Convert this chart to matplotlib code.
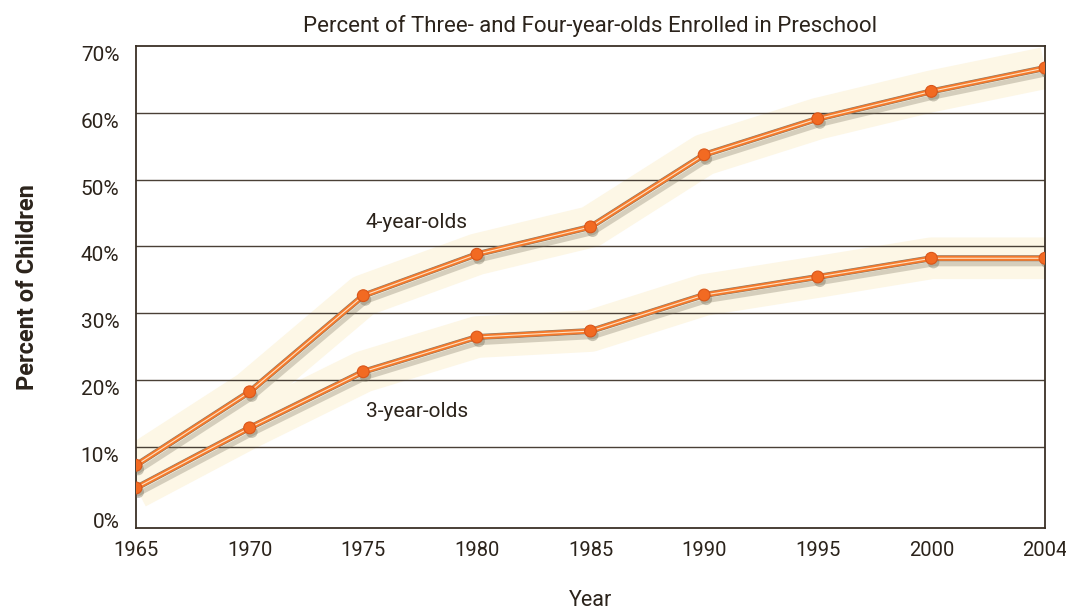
import matplotlib.pyplot as plt
import matplotlib.patheffects as pe

# data
years = ["1965", "1970", "1975", "1980", "1985", "1990", "1995", "2000", "2004"]
four_year = [7.2, 18.2, 32.6, 38.8, 42.9, 53.7, 59.1, 63.2, 66.7]
three_year = [3.8, 12.8, 21.2, 26.4, 27.3, 32.7, 35.4, 38.2, 38.2]
yticks = [0, 10, 20, 30, 40, 50, 60, 70]

plt.rcParams['font.family'] = ['Roboto', 'DejaVu Sans']
ink = "#2b231b"
orange = "#f47a2c"

fig = plt.figure(figsize=(10.66, 6.09), dpi=100)
ax = fig.add_axes([0.1276, 0.133, 0.8527, 0.7915])
x = list(range(len(years)))

for ys in (four_year, three_year):
    # pale glow band behind the lines
    ax.plot(x, ys, color="#fdf7e6", lw=30, solid_capstyle="butt", zorder=0.5)
    ax.plot(x, ys, color=orange, lw=3.6, zorder=3,
            path_effects=[pe.SimpleLineShadow(offset=(2, -4), shadow_color="#7a725c", alpha=0.3, rho=1),
                          pe.Stroke(linewidth=4.4, foreground="#8a7a6a"), pe.Normal()])
    ax.plot(x, ys, color="#ffe2c4", lw=0.8, zorder=4)
    ax.plot(x, ys, "o", color="#f26a22", ms=8.5, mec="#d9561a", mew=0.8, zorder=5,
            path_effects=[pe.SimplePatchShadow(offset=(1.5, -3), shadow_rgbFace="#6a6450", alpha=0.35), pe.Normal()])

ax.text(2.02, 43.6, "4-year-olds", fontsize=15, color=ink, va="center", ha="left", zorder=6)
ax.text(2.02, 15.3, "3-year-olds", fontsize=15, color=ink, va="center", ha="left", zorder=6)

ax.set_xlim(0, len(years) - 1)
ax.set_ylim(-2.2, 70)
ax.set_xticks(x)
ax.set_xticklabels(years)
ax.set_yticks(yticks)
ax.set_yticklabels([f"{v}%" for v in yticks])
for v in yticks[1:-1]:
    ax.axhline(v, color="#4a4036", lw=1.0, zorder=1)
ax.tick_params(length=0, colors=ink, pad=9)
ax.tick_params(axis="x", labelsize=14.5)
ax.tick_params(axis="y", labelsize=15, pad=12)
for lab in ax.get_yticklabels():
    lab.set_va("top")
for s in ax.spines.values():
    s.set_color("#3a3026")
    s.set_linewidth(1.3)

ax.set_title("Percent of Three- and Four-year-olds Enrolled in Preschool", fontsize=16, color=ink, pad=10)
ax.set_xlabel("Year", fontsize=15.5, color=ink, labelpad=22)
ax.set_ylabel("Percent of Children", fontsize=17, color=ink, fontweight="bold", labelpad=30)

fig.savefig("out.png", dpi=100)
